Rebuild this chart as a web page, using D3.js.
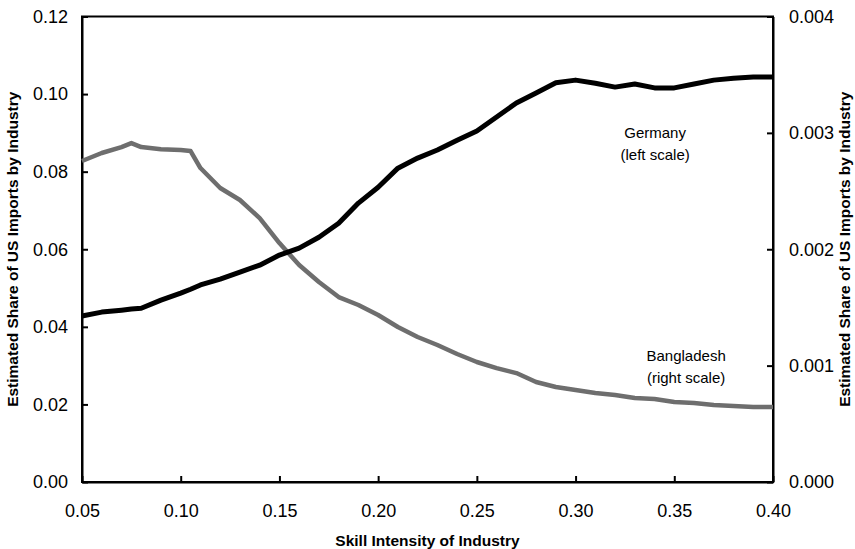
<!DOCTYPE html>
<html>
<head>
<meta charset="utf-8">
<script src="https://cdn.jsdelivr.net/npm/d3@7"></script>
<style>
  body { margin: 0; background: #fff; }
  svg { font-family: "Liberation Sans", Arial, sans-serif; }
</style>
</head>
<body>
<div id="chart"></div>
<script>
/* Share of US imports by skill intensity: Germany vs Bangladesh */

// skill intensity of industry (x-axis)
const skill = [0.05, 0.06, 0.07, 0.075, 0.08, 0.09, 0.10, 0.105, 0.11, 0.12, 0.13, 0.14, 0.15,
               0.16, 0.17, 0.18, 0.19, 0.20, 0.21, 0.22, 0.23, 0.24, 0.25, 0.26, 0.27, 0.28,
               0.29, 0.30, 0.31, 0.32, 0.33, 0.34, 0.35, 0.36, 0.37, 0.38, 0.39, 0.40];

// Germany, left scale
const germany = [0.0428, 0.0438, 0.0443, 0.0446, 0.0448, 0.0469, 0.0487, 0.0497, 0.0508, 0.0523, 0.0541, 0.0559, 0.0585,
                 0.0603, 0.0631, 0.0667, 0.0719, 0.0760, 0.0809, 0.0835, 0.0856, 0.0881, 0.0905, 0.0941, 0.0977, 0.1003,
                 0.1029, 0.1036, 0.1028, 0.1018, 0.1026, 0.1016, 0.1016, 0.1026, 0.1036, 0.1041, 0.1044, 0.1044];

// Bangladesh, right scale
const bangladesh = [0.002758, 0.002827, 0.002878, 0.002912, 0.002878, 0.002860, 0.002852, 0.002844, 0.002698, 0.002526, 0.002423, 0.002268, 0.002053,
                    0.001864, 0.001718, 0.001589, 0.001521, 0.001435, 0.001332, 0.001246, 0.001177, 0.001100, 0.001031, 0.000979, 0.000936, 0.000859,
                    0.000816, 0.000790, 0.000765, 0.000747, 0.000722, 0.000713, 0.000687, 0.000679, 0.000662, 0.000653, 0.000644, 0.000644];

const xTicks = [0.05, 0.10, 0.15, 0.20, 0.25, 0.30, 0.35, 0.40];
const leftTicks = [0, 0.02, 0.04, 0.06, 0.08, 0.10, 0.12];
const rightTicks = [0, 0.001, 0.002, 0.003, 0.004];

const width = 855,
      height = 549,
      margin = ({ top: 16.5, right: 82, bottom: 67, left: 82 });

let svg = d3.select("#chart")
    .append("svg")
    .attr("width", width)
    .attr("height", height);

let x = d3.scaleLinear()
    .domain([0.05, 0.40])
    .range([margin.left, width - margin.right]);

let yLeft = d3.scaleLinear()
    .domain([0, 0.12])
    .range([height - margin.bottom, margin.top]);

let yRight = d3.scaleLinear()
    .domain([0, 0.004])
    .range([height - margin.bottom, margin.top]);

// frame box
svg.append("rect")
    .attr("x", margin.left)
    .attr("y", margin.top)
    .attr("width", x(0.40) - x(0.05))
    .attr("height", yLeft(0) - yLeft(0.12))
    .attr("fill", "none")
    .attr("stroke", "#000")
    .attr("stroke-width", 2);

// axes, ticks point inward
let xAxis = svg.append("g")
    .attr("transform", `translate(0,${height - margin.bottom})`)
    .call(d3.axisBottom(x).tickValues(xTicks).tickFormat(d3.format(".2f"))
        .tickSizeInner(-6).tickSizeOuter(0).tickPadding(22));

let leftAxis = svg.append("g")
    .attr("transform", `translate(${margin.left},0)`)
    .call(d3.axisLeft(yLeft).tickValues(leftTicks).tickFormat(d3.format(".2f"))
        .tickSizeInner(-6).tickSizeOuter(0).tickPadding(14));

let rightAxis = svg.append("g")
    .attr("transform", `translate(${width - margin.right},0)`)
    .call(d3.axisRight(yRight).tickValues(rightTicks).tickFormat(d3.format(".3f"))
        .tickSizeInner(-6).tickSizeOuter(0).tickPadding(16));

for (let g of [xAxis, leftAxis, rightAxis]) {
    g.select(".domain").attr("stroke-width", 2);
    g.selectAll(".tick line").attr("stroke-width", 2);
    g.selectAll("text")
        .style("font-family", "'Liberation Sans', Arial, sans-serif")
        .style("font-size", "18px")
        .attr("fill", "#000");
}

// lines
let lineG = d3.line()
    .x((d, i) => x(skill[i]))
    .y(d => yLeft(d));

let lineB = d3.line()
    .x((d, i) => x(skill[i]))
    .y(d => yRight(d));

svg.append("path")
    .datum(bangladesh)
    .attr("d", lineB)
    .attr("fill", "none")
    .attr("stroke", "#6e6e6e")
    .attr("stroke-width", 4.5)
    .attr("stroke-linejoin", "round");

svg.append("path")
    .datum(germany)
    .attr("d", lineG)
    .attr("fill", "none")
    .attr("stroke", "#000")
    .attr("stroke-width", 5)
    .attr("stroke-linejoin", "round");

// series labels
const labels = [
    { lines: ["Germany", "(left scale)"], x: 0.3403, y: 0.0887, s: yLeft },
    { lines: ["Bangladesh", "(right scale)"], x: 0.356, y: 0.00104, s: yRight }
];
for (let l of labels) {
    let t = svg.append("text")
        .attr("x", x(l.x))
        .attr("y", l.s(l.y))
        .attr("text-anchor", "middle")
        .style("font-size", "15px");
    l.lines.forEach((s, i) => {
        t.append("tspan")
            .attr("x", x(l.x))
            .attr("dy", i === 0 ? 0 : "1.45em")
            .text(s);
    });
}

// axis titles
svg.append("text")
    .attr("x", (x(0.05) + x(0.40)) / 2)
    .attr("y", 546)
    .attr("text-anchor", "middle")
    .style("font-size", "15.5px")
    .style("font-weight", "bold")
    .text("Skill Intensity of Industry");

const midY = (yLeft(0) + yLeft(0.12)) / 2;

svg.append("text")
    .attr("transform", `translate(18,${midY}) rotate(-90)`)
    .attr("text-anchor", "middle")
    .style("font-size", "15.5px")
    .style("font-weight", "bold")
    .text("Estimated Share of US Imports by Industry");

svg.append("text")
    .attr("transform", `translate(850,${midY}) rotate(-90)`)
    .attr("text-anchor", "middle")
    .style("font-size", "15.5px")
    .style("font-weight", "bold")
    .text("Estimated Share of US Imports by Industry");
</script>
</body>
</html>
